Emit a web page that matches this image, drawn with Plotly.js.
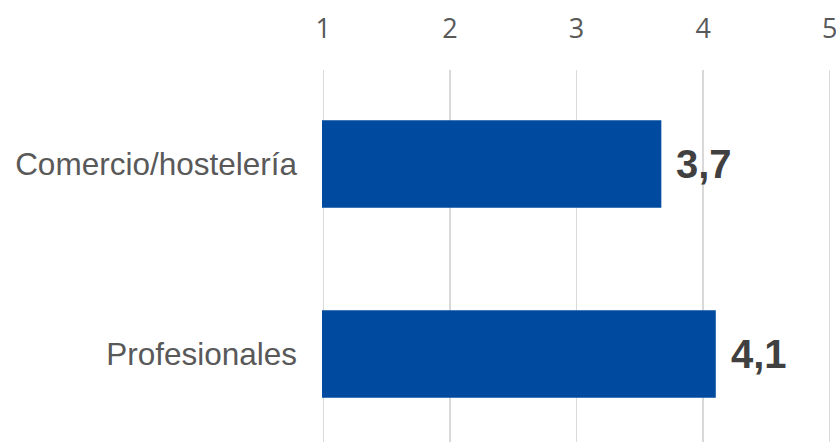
<!DOCTYPE html>
<html><head><meta charset="utf-8">
<script src="https://cdn.plot.ly/plotly-3.0.1.min.js"></script>
<style>html,body{margin:0;padding:0;background:#fff;}#chart{width:836px;height:442px;}</style>
</head><body><div id="chart"></div>
<script>
const categories = ["Comercio/hostelería", "Profesionales"];
const values = [3.67, 4.1];
const xTicks = [1, 2, 3, 4, 5];

const fmt = v => v.toFixed(1).replace('.', ',');

const trace = {
  type: 'bar', orientation: 'h',
  y: categories, x: values,
  marker: {color: '#004a9f'},
  hoverinfo: 'none'
};

const annotations = categories.map((c, i) => ({
  x: values[i], y: c, xref: 'x', yref: 'y',
  text: fmt(values[i]), showarrow: false,
  xanchor: 'left', yanchor: 'middle', xshift: 13,
  font: {family: 'Liberation Sans, Arial, sans-serif', size: 40, color: '#404040', weight: 'bold'}
}));

const layout = {
  width: 836, height: 442,
  margin: {l: 321.7, r: 4.7, t: 70, b: 0, pad: 0},
  paper_bgcolor: '#fff', plot_bgcolor: '#fff',
  bargap: 0.54,
  showlegend: false,
  xaxis: {
    side: 'top', range: [0.99, 5.01], tickvals: xTicks, ticktext: xTicks.map(String),
    showgrid: true, gridcolor: '#d9d9d9', gridwidth: 1.3,
    zeroline: false, showline: false, ticks: '',
    ticklabelstandoff: 26, ticklabeloverflow: 'allow',
    tickfont: {family: 'Open Sans, Noto Sans, sans-serif', size: 27, color: '#595959'},
    fixedrange: true
  },
  yaxis: {
    categoryorder: 'array', categoryarray: categories,
    range: [1.463, -0.495],
    showgrid: false, zeroline: false, showline: false, ticks: '',
    ticklabelstandoff: 24,
    tickfont: {family: 'Liberation Sans, Arial, sans-serif', size: 31.5, color: '#595959'},
    fixedrange: true
  },
  annotations: annotations
};

Plotly.newPlot('chart', [trace], layout, {displayModeBar: false, staticPlot: true});
</script></body></html>
